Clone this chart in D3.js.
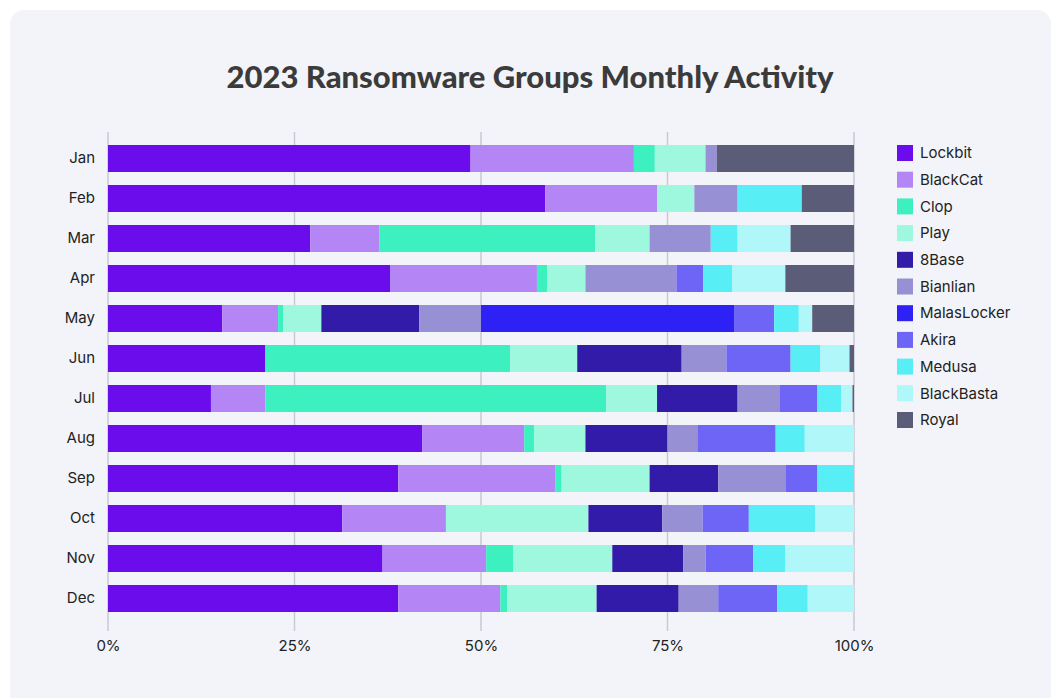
<!DOCTYPE html>
<html>
<head>
<meta charset="utf-8">
<script src="https://cdnjs.cloudflare.com/ajax/libs/d3/7.8.5/d3.min.js"></script>
<style>
  body { margin: 0; background: #ffffff; font-family: Inter, "Noto Sans", sans-serif; }
  #chart { width: 1055px; height: 698px; }
</style>
</head>
<body>
<div id="chart"></div>
<script>
// months and groups
var months = ["Jan", "Feb", "Mar", "Apr", "May", "Jun", "Jul", "Aug", "Sep", "Oct", "Nov", "Dec"];
var groups = ["Lockbit", "BlackCat", "Clop", "Play", "8Base", "Bianlian", "MalasLocker", "Akira", "Medusa", "BlackBasta", "Royal"];
var colors = ["#6a0cec", "#b486f5", "#3df0bf", "#9df8de", "#321ba9", "#9890d4", "#2e21f5", "#6e65f6", "#58eef5", "#b0f7fa", "#5a5c78"];

// share (%) per month, one array per group
var lockbit     = [48.6, 58.6, 27.1, 37.8, 15.3, 21.1, 13.8, 42.1, 38.9, 31.4, 36.8, 38.9];
var blackcat    = [21.9, 15.0,  9.3, 19.7,  7.5,  0.0,  7.3, 13.7, 21.1, 13.9, 13.9, 13.7];
var clop        = [ 2.8,  0.0, 28.9,  1.4,  0.7, 32.8, 45.7,  1.3,  0.8,  0.0,  3.6,  0.9];
var play        = [ 6.8,  5.0,  7.3,  5.1,  5.1,  9.0,  6.8,  6.9, 11.8, 19.1, 13.3, 12.0];
var base8       = [ 0.0,  0.0,  0.0,  0.0, 13.1, 14.0, 10.8, 11.0,  9.2,  9.9,  9.5, 11.0];
var bianlian    = [ 1.5,  5.8,  8.2, 12.2,  8.3,  6.0,  5.6,  4.0,  9.0,  5.4,  3.0,  5.3];
var malaslocker = [ 0.0,  0.0,  0.0,  0.0, 34.0,  0.0,  0.0,  0.0,  0.0,  0.0,  0.0,  0.0];
var akira       = [ 0.0,  0.0,  0.0,  3.6,  5.3,  8.6,  5.1, 10.5,  4.3,  6.2,  6.4,  7.9];
var medusa      = [ 0.0,  8.6,  3.6,  3.9,  3.3,  4.0,  3.2,  3.9,  4.9,  8.9,  4.3,  4.1];
var blackbasta  = [ 0.0,  0.0,  7.1,  7.1,  1.8,  3.9,  1.5,  6.6,  0.0,  5.2,  9.2,  6.2];
var royal       = [18.4,  7.0,  8.5,  9.2,  5.6,  0.6,  0.2,  0.0,  0.0,  0.0,  0.0,  0.0];
var tickValues  = [0, 25, 50, 75, 100];
var tickLabels  = ["0%", "25%", "50%", "75%", "100%"];

var series = [lockbit, blackcat, clop, play, base8, bianlian, malaslocker, akira, medusa, blackbasta, royal];

var rows = months.map(function(m, i) {
    var r = {month: m};
    groups.forEach(function(g, j) { r[g] = series[j][i]; });
    return r;
});

var svgwidth = 1055, svgheight = 698;
var margin = {top: 145, right: 201, bottom: 86, left: 108},
    width = svgwidth - margin.left - margin.right,
    height = 467;

var svg = d3.select("#chart").append("svg")
    .attr("width", svgwidth)
    .attr("height", svgheight);

// card
svg.append("rect")
    .attr("x", 10).attr("y", 10)
    .attr("width", 1041).attr("height", 700)
    .attr("rx", 14)
    .style("fill", "#f3f4f9");

svg.append("text")
    .attr("x", 530).attr("y", 88)
    .attr("text-anchor", "middle")
    .style("font-family", "Lato, 'Open Sans', sans-serif")
    .style("font-weight", "900")
    .style("font-size", "31px")
    .style("fill", "#3b3b3b")
    .text("2023 Ransomware Groups Monthly Activity");

var g = svg.append("g")
    .attr("transform", "translate(" + margin.left + "," + margin.top + ")");

var x = d3.scaleLinear().domain([0, 100]).range([0, width]);
var y = d3.scaleBand().domain(months).range([0, height]).paddingInner(0.325).paddingOuter(0);

var stack = d3.stack().keys(groups).offset(d3.stackOffsetExpand);
var stacked = stack(rows);

// gridlines
g.append("g")
    .selectAll("line")
    .data(tickValues)
    .enter().append("line")
    .attr("x1", d => x(d)).attr("x2", d => x(d))
    .attr("y1", -13).attr("y2", height + 19)
    .style("stroke", "#c9c9d6")
    .style("stroke-width", 1.5);

g.append("g")
    .selectAll("g")
    .data(stacked)
  .enter().append("g")
    .style("fill", (d, i) => colors[i])
  .selectAll("rect")
    .data(d => d)
  .enter().append("rect")
    .attr("x", d => x(d[0] * 100))
    .attr("width", d => x(d[1] * 100) - x(d[0] * 100))
    .attr("y", d => y(d.data.month))
    .attr("height", y.bandwidth());

var xAxis = d3.axisBottom(x).tickValues(tickValues)
    .tickFormat((d, i) => tickLabels[i]).tickSize(0).tickPadding(0);
var xg = g.append("g")
    .attr("transform", "translate(0," + (height + 28) + ")")
    .call(xAxis);
xg.select(".domain").remove();
xg.selectAll("text")
    .style("font-family", "Inter, sans-serif")
    .style("font-size", "15px")
    .style("fill", "#222");

var yAxis = d3.axisLeft(y).tickSize(0).tickPadding(13);
var yg = g.append("g").call(yAxis);
yg.select(".domain").remove();
yg.selectAll("text")
    .style("font-family", "Inter, sans-serif")
    .style("font-size", "15px")
    .style("fill", "#222");

// legend
var legend = svg.append("g")
    .attr("transform", "translate(897,145)");
var item = legend.selectAll("g")
    .data(groups)
  .enter().append("g")
    .attr("transform", (d, i) => "translate(0," + (i * 26.7) + ")");
item.append("rect")
    .attr("width", 16).attr("height", 16)
    .style("fill", (d, i) => colors[i]);
item.append("text")
    .attr("x", 23).attr("y", 8).attr("dy", "0.35em")
    .style("font-family", "Inter, sans-serif")
    .style("font-size", "15px")
    .style("fill", "#222")
    .text(d => d);
</script>
</body>
</html>
